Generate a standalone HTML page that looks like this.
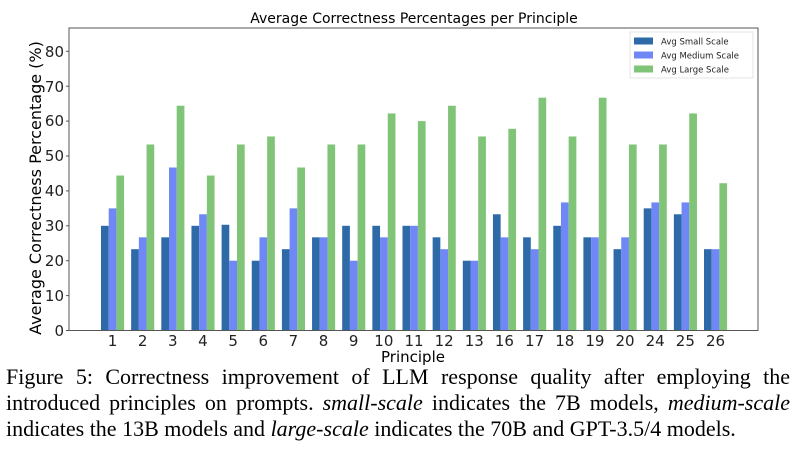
<!DOCTYPE html>
<html><head><meta charset="utf-8"><style>
body{margin:0;background:#fff;width:800px;height:463px;overflow:hidden;position:relative}
.cap{position:absolute;left:6px;width:784px;font-family:"Liberation Serif",serif;font-size:22px;line-height:26px;top:364px;text-align:justify;color:#000}
</style></head><body>
<svg width="800" height="463" style="position:absolute;left:0;top:0" font-family="DejaVu Sans, Liberation Sans, sans-serif">
<text x="414" y="23" font-size="14" text-anchor="middle">Average Correctness Percentages per Principle</text>
<g font-size="15" text-anchor="end" fill="#222">
<text x="64" y="336">0</text><text x="64" y="301">10</text><text x="64" y="266">20</text><text x="64" y="231">30</text><text x="64" y="196">40</text><text x="64" y="161">50</text><text x="64" y="126">60</text><text x="64" y="92">70</text><text x="64" y="57">80</text>
</g>
<text transform="translate(41,188) rotate(-90)" font-size="16" text-anchor="middle">Average Correctness Percentage (%)</text>
<text x="413" y="362" font-size="15" text-anchor="middle">Principle</text>
<g>
<g transform="translate(101,330.5) scale(1,-3.49)"><rect width="7.7" height="30" fill="#2f6aa8"/><rect x="7.7" width="7.7" height="35" fill="#6f88f5"/><rect x="15.4" width="7.7" height="44.4" fill="#80c477"/></g>
<g transform="translate(131.15,330.5) scale(1,-3.49)"><rect width="7.7" height="23.3" fill="#2f6aa8"/><rect x="7.7" width="7.7" height="26.7" fill="#6f88f5"/><rect x="15.4" width="7.7" height="53.3" fill="#80c477"/></g>
<g transform="translate(161.3,330.5) scale(1,-3.49)"><rect width="7.7" height="26.7" fill="#2f6aa8"/><rect x="7.7" width="7.7" height="46.7" fill="#6f88f5"/><rect x="15.4" width="7.7" height="64.4" fill="#80c477"/></g>
<g transform="translate(191.45,330.5) scale(1,-3.49)"><rect width="7.7" height="30" fill="#2f6aa8"/><rect x="7.7" width="7.7" height="33.3" fill="#6f88f5"/><rect x="15.4" width="7.7" height="44.4" fill="#80c477"/></g>
<g transform="translate(221.6,330.5) scale(1,-3.49)"><rect width="7.7" height="30.3" fill="#2f6aa8"/><rect x="7.7" width="7.7" height="20" fill="#6f88f5"/><rect x="15.4" width="7.7" height="53.3" fill="#80c477"/></g>
<g transform="translate(251.75,330.5) scale(1,-3.49)"><rect width="7.7" height="20" fill="#2f6aa8"/><rect x="7.7" width="7.7" height="26.7" fill="#6f88f5"/><rect x="15.4" width="7.7" height="55.6" fill="#80c477"/></g>
<g transform="translate(281.9,330.5) scale(1,-3.49)"><rect width="7.7" height="23.3" fill="#2f6aa8"/><rect x="7.7" width="7.7" height="35" fill="#6f88f5"/><rect x="15.4" width="7.7" height="46.7" fill="#80c477"/></g>
<g transform="translate(312.05,330.5) scale(1,-3.49)"><rect width="7.7" height="26.7" fill="#2f6aa8"/><rect x="7.7" width="7.7" height="26.7" fill="#6f88f5"/><rect x="15.4" width="7.7" height="53.3" fill="#80c477"/></g>
<g transform="translate(342.2,330.5) scale(1,-3.49)"><rect width="7.7" height="30" fill="#2f6aa8"/><rect x="7.7" width="7.7" height="20" fill="#6f88f5"/><rect x="15.4" width="7.7" height="53.3" fill="#80c477"/></g>
<g transform="translate(372.35,330.5) scale(1,-3.49)"><rect width="7.7" height="30" fill="#2f6aa8"/><rect x="7.7" width="7.7" height="26.7" fill="#6f88f5"/><rect x="15.4" width="7.7" height="62.2" fill="#80c477"/></g>
<g transform="translate(402.5,330.5) scale(1,-3.49)"><rect width="7.7" height="30" fill="#2f6aa8"/><rect x="7.7" width="7.7" height="30" fill="#6f88f5"/><rect x="15.4" width="7.7" height="60" fill="#80c477"/></g>
<g transform="translate(432.65,330.5) scale(1,-3.49)"><rect width="7.7" height="26.7" fill="#2f6aa8"/><rect x="7.7" width="7.7" height="23.3" fill="#6f88f5"/><rect x="15.4" width="7.7" height="64.4" fill="#80c477"/></g>
<g transform="translate(462.8,330.5) scale(1,-3.49)"><rect width="7.7" height="20" fill="#2f6aa8"/><rect x="7.7" width="7.7" height="20" fill="#6f88f5"/><rect x="15.4" width="7.7" height="55.6" fill="#80c477"/></g>
<g transform="translate(492.95,330.5) scale(1,-3.49)"><rect width="7.7" height="33.3" fill="#2f6aa8"/><rect x="7.7" width="7.7" height="26.7" fill="#6f88f5"/><rect x="15.4" width="7.7" height="57.8" fill="#80c477"/></g>
<g transform="translate(523.1,330.5) scale(1,-3.49)"><rect width="7.7" height="26.7" fill="#2f6aa8"/><rect x="7.7" width="7.7" height="23.3" fill="#6f88f5"/><rect x="15.4" width="7.7" height="66.7" fill="#80c477"/></g>
<g transform="translate(553.25,330.5) scale(1,-3.49)"><rect width="7.7" height="30" fill="#2f6aa8"/><rect x="7.7" width="7.7" height="36.7" fill="#6f88f5"/><rect x="15.4" width="7.7" height="55.6" fill="#80c477"/></g>
<g transform="translate(583.4,330.5) scale(1,-3.49)"><rect width="7.7" height="26.7" fill="#2f6aa8"/><rect x="7.7" width="7.7" height="26.7" fill="#6f88f5"/><rect x="15.4" width="7.7" height="66.7" fill="#80c477"/></g>
<g transform="translate(613.55,330.5) scale(1,-3.49)"><rect width="7.7" height="23.3" fill="#2f6aa8"/><rect x="7.7" width="7.7" height="26.7" fill="#6f88f5"/><rect x="15.4" width="7.7" height="53.3" fill="#80c477"/></g>
<g transform="translate(643.7,330.5) scale(1,-3.49)"><rect width="7.7" height="35" fill="#2f6aa8"/><rect x="7.7" width="7.7" height="36.7" fill="#6f88f5"/><rect x="15.4" width="7.7" height="53.3" fill="#80c477"/></g>
<g transform="translate(673.85,330.5) scale(1,-3.49)"><rect width="7.7" height="33.3" fill="#2f6aa8"/><rect x="7.7" width="7.7" height="36.7" fill="#6f88f5"/><rect x="15.4" width="7.7" height="62.2" fill="#80c477"/></g>
<g transform="translate(704,330.5) scale(1,-3.49)"><rect width="7.7" height="23.3" fill="#2f6aa8"/><rect x="7.7" width="7.7" height="23.3" fill="#6f88f5"/><rect x="15.4" width="7.7" height="42.2" fill="#80c477"/></g>
</g>
<rect x="69" y="28" width="689" height="302.5" fill="none" stroke="#555" stroke-width="1"/>
<g stroke="#555"><line x1="66" y1="330.5" x2="69" y2="330.5"/><line x1="66" y1="295.6" x2="69" y2="295.6"/><line x1="66" y1="260.7" x2="69" y2="260.7"/><line x1="66" y1="225.8" x2="69" y2="225.8"/><line x1="66" y1="190.9" x2="69" y2="190.9"/><line x1="66" y1="156" x2="69" y2="156"/><line x1="66" y1="121.1" x2="69" y2="121.1"/><line x1="66" y1="86.2" x2="69" y2="86.2"/><line x1="66" y1="51.3" x2="69" y2="51.3"/></g>
<g font-size="15" text-anchor="middle" fill="#222">
<text x="112.5" y="346">1</text><text x="142.65" y="346">2</text><text x="172.8" y="346">3</text><text x="202.95" y="346">4</text><text x="233.1" y="346">5</text><text x="263.25" y="346">6</text><text x="293.4" y="346">7</text><text x="323.55" y="346">8</text><text x="353.7" y="346">9</text><text x="383.85" y="346">10</text><text x="414" y="346">11</text><text x="444.15" y="346">12</text><text x="474.3" y="346">13</text><text x="504.45" y="346">16</text><text x="534.6" y="346">17</text><text x="564.75" y="346">18</text><text x="594.9" y="346">19</text><text x="625.05" y="346">20</text><text x="655.2" y="346">24</text><text x="685.35" y="346">25</text><text x="715.5" y="346">26</text>
</g>
<rect x="630" y="32" width="123" height="46" fill="#fff" stroke="#e4e4e4"/>
<rect x="634" y="37.5" width="19" height="7" fill="#2f6aa8"/>
<rect x="634" y="51.5" width="19" height="7" fill="#6f88f5"/>
<rect x="634" y="65.5" width="19" height="7" fill="#80c477"/>
<g font-size="8.5" fill="#222"><text x="661" y="44.5">Avg Small Scale</text><text x="661" y="58.5">Avg Medium Scale</text><text x="661" y="72.5">Avg Large Scale</text></g>
</svg>
<div class="cap">Figure 5: Correctness improvement of LLM response quality after employing the introduced principles on prompts. <i>small-scale</i> indicates the 7B models, <i>medium-scale</i> indicates the 13B models and <i>large-scale</i> indicates the 70B and GPT-3.5/4 models.</div>
</body></html>
